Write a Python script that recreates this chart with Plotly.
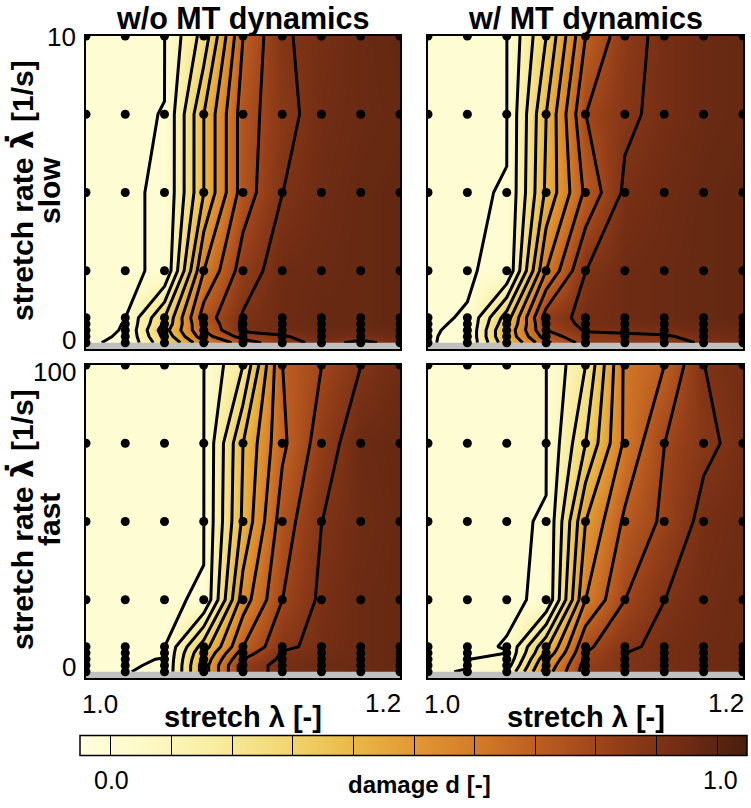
import plotly.graph_objects as go
import numpy as np

# ---------------- data ----------------
stretch = [1.0, 1.025, 1.05, 1.075, 1.1, 1.125, 1.15, 1.175, 1.2]
rate_slow = [0.2, 0.4, 0.6, 0.8, 1.0, 2.5, 5.0, 7.5, 10.0]
rate_fast = [2, 4, 6, 8, 10, 25, 50, 75, 100]

# damage d, one row per stretch rate (bottom to top), one column per stretch
damage_slow_wo_mt = [
    [0, 0.0025, 0.28, 0.58, 0.75, 0.86, 0.93, 0.88, 0.93],
    [0, 0.0015, 0.33, 0.66, 0.84, 0.89, 0.95, 0.93, 0.96],
    [0, 0.0012, 0.36, 0.70, 0.92, 0.94, 0.96, 0.96, 0.97],
    [0, 0.0011, 0.32, 0.72, 0.92, 0.95, 0.97, 0.97, 0.98],
    [0, 0, 0.30, 0.75, 0.91, 0.95, 0.97, 0.97, 0.98],
    [0, 0, 0.002, 0.60, 0.85, 0.95, 0.96, 0.97, 0.98],
    [0, 0, 0.002, 0.40, 0.75, 0.90, 0.95, 0.97, 0.98],
    [0, 0, 0.0012, 0.40, 0.75, 0.87, 0.94, 0.96, 0.97],
    [0, 0, 0, 0.24, 0.70, 0.89, 0.93, 0.96, 0.98],
]
damage_slow_w_mt = [
    [0, 0.0045, 0.38, 0.68, 0.84, 0.86, 0.87, 0.91, 0.94],
    [0, 0.004, 0.42, 0.75, 0.87, 0.88, 0.89, 0.93, 0.95],
    [0, 0.003, 0.42, 0.80, 0.91, 0.92, 0.93, 0.95, 0.96],
    [0, 0.002, 0.38, 0.82, 0.93, 0.94, 0.95, 0.96, 0.97],
    [0, 0.0015, 0.35, 0.85, 0.93, 0.95, 0.96, 0.97, 0.98],
    [0, 0, 0.004, 0.60, 0.90, 0.95, 0.96, 0.97, 0.98],
    [0, 0, 0.0015, 0.42, 0.72, 0.92, 0.95, 0.97, 0.98],
    [0, 0, 0, 0.40, 0.80, 0.88, 0.93, 0.96, 0.97],
    [0, 0, 0, 0.30, 0.70, 0.86, 0.93, 0.96, 0.97],
]
damage_fast_wo_mt = [
    [0, 0, 0.006, 0.45, 0.85, 0.93, 0.95, 0.96, 0.97],
    [0, 0, 0.0023, 0.45, 0.85, 0.93, 0.95, 0.96, 0.97],
    [0, 0, 0.0013, 0.43, 0.80, 0.92, 0.94, 0.96, 0.97],
    [0, 0, 0, 0.40, 0.75, 0.91, 0.94, 0.96, 0.97],
    [0, 0, 0, 0.35, 0.70, 0.88, 0.93, 0.96, 0.97],
    [0, 0, 0, 0.0018, 0.55, 0.80, 0.92, 0.96, 0.97],
    [0, 0, 0, 0, 0.42, 0.75, 0.90, 0.95, 0.97],
    [0, 0, 0, 0, 0.40, 0.68, 0.85, 0.96, 0.97],
    [0, 0, 0, 0, 0.20, 0.70, 0.80, 0.90, 0.95],
]
damage_fast_w_mt = [
    [0, 0.0015, 0.10, 0.55, 0.85, 0.90, 0.93, 0.95, 0.96],
    [0, 0.0005, 0.05, 0.52, 0.84, 0.90, 0.93, 0.95, 0.96],
    [0, 0, 0.015, 0.48, 0.82, 0.90, 0.93, 0.95, 0.96],
    [0, 0, 0.0008, 0.42, 0.80, 0.90, 0.93, 0.95, 0.96],
    [0, 0, 0.0013, 0.38, 0.78, 0.88, 0.93, 0.95, 0.96],
    [0, 0, 0, 0.002, 0.60, 0.80, 0.90, 0.94, 0.96],
    [0, 0, 0, 0.0015, 0.50, 0.72, 0.82, 0.93, 0.95],
    [0, 0, 0, 0, 0.30, 0.62, 0.80, 0.88, 0.93],
    [0, 0, 0, 0, 0.20, 0.62, 0.70, 0.90, 0.94],
]

# contour levels and colour range
level_start, level_end, level_step = 0.001, 0.95, 0.1
cbar_min, cbar_max = -0.05, 1.05
cbar_ticks = ["0.0", "1.0"]

colorscale = [
    [0.00, "rgb(255,254,222)"],
    [0.10, "rgb(253,249,197)"],
    [0.20, "rgb(249,237,162)"],
    [0.30, "rgb(242,217,118)"],
    [0.40, "rgb(234,188,74)"],
    [0.50, "rgb(226,153,52)"],
    [0.60, "rgb(210,121,40)"],
    [0.70, "rgb(184,90,32)"],
    [0.80, "rgb(150,63,25)"],
    [0.90, "rgb(114,45,20)"],
    [1.00, "rgb(72,30,14)"],
]

W, H = 751, 808
def px(v):
    return v / W
def py(v):
    return 1 - v / H

panels = [
    (damage_slow_wo_mt, rate_slow, "x", "y", (86, 400), (36, 349)),
    (damage_slow_w_mt, rate_slow, "x2", "y2", (428, 743), (36, 349)),
    (damage_fast_wo_mt, rate_fast, "x3", "y3", (86, 400), (365, 678)),
    (damage_fast_w_mt, rate_fast, "x4", "y4", (428, 743), (365, 678)),
]

fig = go.Figure()
layout_axes = {}
for i, (z, yv, xa, ya, xd, yd) in enumerate(panels):
    fig.add_trace(go.Contour(
        x=stretch, y=yv, z=z, xaxis=xa, yaxis=ya,
        colorscale=colorscale, zmin=cbar_min, zmax=cbar_max,
        contours=dict(start=level_start, end=level_end, size=level_step,
                      coloring="heatmap"),
        line=dict(color="black", width=3, smoothing=0),
        showscale=False, hoverinfo="skip",
    ))
    X, Y = np.meshgrid(stretch, yv)
    fig.add_trace(go.Scatter(
        x=X.ravel(), y=Y.ravel(), xaxis=xa, yaxis=ya, mode="markers",
        marker=dict(color="black", size=9), cliponaxis=True,
        hoverinfo="skip", showlegend=False,
    ))
    sfx = "" if i == 0 else str(i + 1)
    layout_axes["xaxis" + sfx] = dict(
        domain=[px(xd[0]), px(xd[1])], range=[stretch[0], stretch[-1]],
        showticklabels=False, ticks="", showgrid=False, zeroline=False,
        showline=True, mirror=True, linecolor="black", linewidth=1.5,
        anchor="y" + sfx,
    )
    layout_axes["yaxis" + sfx] = dict(
        domain=[py(yd[1]), py(yd[0])], range=[0, yv[-1]],
        showticklabels=False, ticks="", showgrid=False, zeroline=False,
        showline=True, mirror=True, linecolor="black", linewidth=1.5,
        anchor="x" + sfx,
    )

# colorbar carrier (invisible trace, only its colorbar is shown)
fig.add_trace(go.Contour(
    x=stretch[:2], y=rate_slow[:2], z=[[cbar_min, cbar_max], [cbar_min, cbar_max]],
    xaxis="x", yaxis="y", opacity=0, hoverinfo="skip",
    colorscale=colorscale, zmin=cbar_min, zmax=cbar_max,
    contours=dict(start=0, end=1.0, size=0.1, coloring="heatmap"),
    line=dict(color="black", width=1),
    showscale=True,
    colorbar=dict(orientation="h", x=px(413), xanchor="center",
                  y=py(757), yanchor="bottom", len=667, lenmode="pixels",
                  thickness=20, thicknessmode="pixels", outlinewidth=1.5,
                  outlinecolor="black", showticklabels=False, ticks="",
                  xpad=0, ypad=0),
))

FONT = "Liberation Sans"
ann = []
def add(text, x, y, size, bold=False, xanchor="center", yanchor="middle", angle=0):
    ann.append(dict(text=("<b>%s</b>" % text) if bold else text,
                    x=px(x), y=py(y), xref="paper", yref="paper",
                    showarrow=False, xanchor=xanchor, yanchor=yanchor,
                    textangle=angle, font=dict(family=FONT, size=size, color="black")))

lam_dot = '<span style="font-family:DejaVu Sans">λ̇</span>'

add("w/o MT dynamics", 243, 18, 30.5, bold=True)
add("w/ MT dynamics", 585.5, 18, 30.5, bold=True)
# y tick labels
add("10", 78, 37, 26, xanchor="right")
add("0", 78, 340, 26, xanchor="right")
add("100", 78, 372, 26, xanchor="right")
add("0", 78, 667, 26, xanchor="right")
# x tick labels
for x0, x1 in [(86, 400), (428, 743)]:
    add("1.0", x0 - 6, 704, 26, xanchor="left")
    add("1.2", x1 + 3, 703, 26, xanchor="right")
    add("stretch λ [-]", (x0 + x1) / 2, 717, 29, bold=True)
# y axis titles
add("stretch rate %s [1/s]" % lam_dot, 22, 191, 30, bold=True, angle=-90)
add("slow", 49, 191, 30, bold=True, angle=-90)
add("stretch rate %s [1/s]" % lam_dot, 22, 520, 30, bold=True, angle=-90)
add("fast", 49, 520, 30, bold=True, angle=-90)
# colorbar labels
add(cbar_ticks[0], 111, 780, 25)
add(cbar_ticks[1], 720, 780, 25)
add("damage d [-]", 419, 784, 24, bold=True)

fig.update_layout(
    width=W, height=H, autosize=False,
    margin=dict(l=0, r=0, t=0, b=0),
    paper_bgcolor="white", plot_bgcolor="rgb(192,192,192)",
    showlegend=False, annotations=ann, **layout_axes,
)
fig.write_html("out.html", config={"displayModeBar": False},
               post_script="document.body.style.margin='0px';")
